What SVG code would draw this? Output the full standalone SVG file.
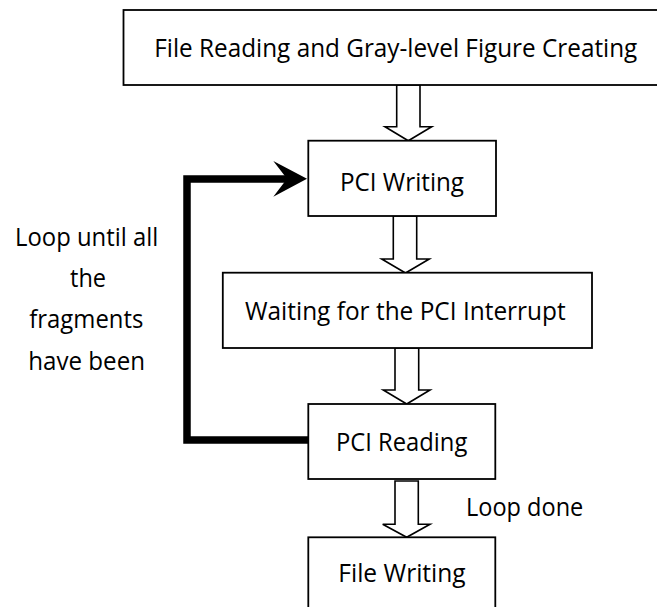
<svg xmlns="http://www.w3.org/2000/svg" width="657" height="607" viewBox="0 0 657 607">
  <style>
    .box { fill: #ffffff; stroke: #000000; stroke-width: 1.8; }
    .flow { fill: #ffffff; stroke: #000000; stroke-width: 1.6; stroke-linejoin: miter; }
    .loop { fill: none; stroke: #000000; stroke-width: 7.5; stroke-linejoin: miter; }
    .label { font-family: "Open Sans", "Noto Sans", "Liberation Sans", sans-serif; font-size: 25px; fill: #000000; }
  </style>
  <rect width="657" height="607" fill="#ffffff"/>

  <g id="connectors">
    <!-- hollow block arrows between steps -->
    <polygon class="flow" points="396.7,85 420,85 420,126.7 431.7,126.7 408.3,140.7 385,126.7 396.7,126.7"/>
    <polygon class="flow" points="393.3,216 416.7,216 416.7,259 429.3,259 405.5,273 381.7,259 393.3,259"/>
    <polygon class="flow" points="395,348 418.7,348 418.7,390 430,390 406.7,404 383.3,390 395,390"/>
    <polygon class="flow" points="395,481 418.3,481 418.3,524.3 430,524.3 406.7,537.3 382.7,524.3 395,524.3"/>
    <!-- feedback loop from reading back to writing -->
    <path class="loop" d="M308,440 H187 V179 H288"/>
    <polygon points="307,178.7 273.3,161 287,178.7 273.3,196.7" fill="#000000"/>
  </g>

  <g id="node-file-reading">
    <rect class="box" x="123.5" y="10" width="545" height="75"/>
    <text class="label" x="154.3" y="57" textLength="483" lengthAdjust="spacingAndGlyphs">File Reading and Gray-level Figure Creating</text>
  </g>

  <g id="node-pci-writing">
    <rect class="box" x="308.3" y="140.7" width="187.7" height="75.3"/>
    <text class="label" x="340" y="191" textLength="124" lengthAdjust="spacingAndGlyphs">PCI Writing</text>
  </g>

  <g id="node-waiting">
    <rect class="box" x="222.8" y="272.7" width="369.2" height="75.3"/>
    <text class="label" x="245" y="320" textLength="320.7" lengthAdjust="spacingAndGlyphs">Waiting for the PCI Interrupt</text>
  </g>

  <g id="node-pci-reading">
    <rect class="box" x="308.3" y="404" width="187" height="75"/>
    <text class="label" x="336" y="450.7" textLength="131.3" lengthAdjust="spacingAndGlyphs">PCI Reading</text>
  </g>

  <g id="node-file-writing">
    <rect class="box" x="308.3" y="537.3" width="187" height="80"/>
    <text class="label" x="338.3" y="582.3" textLength="127.4" lengthAdjust="spacingAndGlyphs">File Writing</text>
  </g>

  <g id="label-loop-done">
    <text class="label" x="466" y="516" textLength="117.3" lengthAdjust="spacingAndGlyphs">Loop done</text>
  </g>

  <g id="label-loop-until">
    <text class="label" x="15" y="246" textLength="143.3" lengthAdjust="spacingAndGlyphs">Loop until all</text>
    <text class="label" x="70" y="287.3" textLength="36" lengthAdjust="spacingAndGlyphs">the</text>
    <text class="label" x="29.3" y="328.3" textLength="114" lengthAdjust="spacingAndGlyphs">fragments</text>
    <text class="label" x="28.3" y="369.5" textLength="116.7" lengthAdjust="spacingAndGlyphs">have been</text>
  </g>
</svg>
